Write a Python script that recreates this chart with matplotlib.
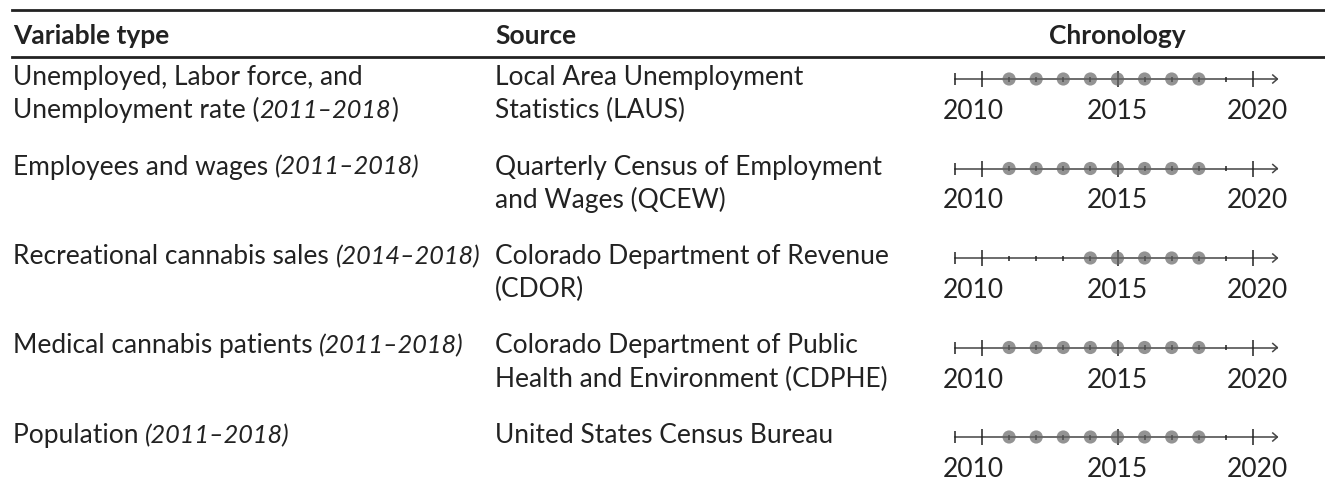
import matplotlib
matplotlib.use("Agg")
import matplotlib.pyplot as plt
from matplotlib.transforms import blended_transform_factory

W, H = 1325, 484
FONT = "Lato"
FS = 19
FS_IT = 18.2  # Lato italic digits run wide
INK = "#222222"

headers = ["Variable type", "Source", "Chronology"]

# each variable: list of (text, italic) parts per line
variables = [
    [[("Unemployed, Labor force, and", False)],
     [("Unemployment rate (", False), ("2011–2018", True), (")", False)]],
    [[("Employees and wages ", False), ("(2011–2018)", True)]],
    [[("Recreational cannabis sales ", False), ("(2014–2018)", True)]],
    [[("Medical cannabis patients ", False), ("(2011–2018)", True)]],
    [[("Population ", False), ("(2011–2018)", True)]],
]
sources = [
    ["Local Area Unemployment", "Statistics (LAUS)"],
    ["Quarterly Census of Employment", "and Wages (QCEW)"],
    ["Colorado Department of Revenue", "(CDOR)"],
    ["Colorado Department of Public", "Health and Environment (CDPHE)"],
    ["United States Census Bureau"],
]
start_years = [2011, 2011, 2014, 2011, 2011]
end_years = [2018, 2018, 2018, 2018, 2018]

axis_start, axis_end = 2009, 2020.9
major_years = [2010, 2015, 2020]
year_labels = ["2010", "2015", "2020"]

fig = plt.figure(figsize=(W / 100, H / 100), dpi=100)
renderer = fig.canvas.get_renderer()


def fx(x):
    return x / W


def fy(y):
    return 1 - y / H


def put_parts(x, y, parts, **kw):
    for s, ital in parts:
        t = fig.text(fx(x), fy(y), s, fontsize=FS_IT if ital else FS,
                     family=FONT, color=INK,
                     style="italic" if ital else "normal", va="baseline", **kw)
        x += t.get_window_extent(renderer).width


# rules
fig.add_artist(plt.Line2D([fx(12), 1], [fy(10), fy(10)], color=INK, lw=2))
fig.add_artist(plt.Line2D([fx(12), 1], [fy(57), fy(57)], color=INK, lw=2))

# header
col_x = [13, 495]
for x, h in zip(col_x, headers[:2]):
    fig.text(fx(x), fy(44), h, fontsize=FS, family=FONT, weight="bold",
             color=INK, va="baseline")
fig.text(fx(1117), fy(44), headers[2], fontsize=FS, family=FONT,
         weight="bold", color=INK, va="baseline", ha="center")

ROW0, PITCH, LINE = 85, 89.5, 33.5
x0, x1 = 943, 1288
xlim = (2010 - (982 - x0) / 27.1, 2010 + (x1 - 982) / 27.1)

for i in range(len(variables)):
    base = ROW0 + PITCH * i
    for j, parts in enumerate(variables[i]):
        put_parts(col_x[0], base + LINE * j, parts)
    for j, s in enumerate(sources[i]):
        fig.text(fx(col_x[1]), fy(base + LINE * j), s, fontsize=FS,
                 family=FONT, color=INK, va="baseline")

    # chronology strip
    ty = base - 6
    ax = fig.add_axes([fx(x0), fy(ty + 15), fx(x1 - x0), 30 / H])
    ax.set_xlim(*xlim)
    ax.set_ylim(15, -15)
    ax.axis("off")
    ax.plot([axis_start, axis_end], [0, 0], color="#444444", lw=1.1)
    ax.vlines(axis_start, -6, 6, color=INK, lw=1.1)
    minor = [y for y in range(2011, 2020) if y not in major_years]
    ax.vlines(minor, -2.5, 2.5, color=INK, lw=1.1)
    ax.vlines(major_years, -8, 8, color=INK, lw=1.1)
    ax.plot([axis_end - 0.17, axis_end, axis_end - 0.17], [-4, 0, 4],
            color="#444444", lw=1.1)
    yrs = list(range(start_years[i], end_years[i] + 1))
    ax.scatter(yrs, [0] * len(yrs), s=90, color="#666666", alpha=0.7,
               edgecolors="none", zorder=3)
    tr = blended_transform_factory(ax.transAxes, ax.transData)
    ax.text(0, 40, year_labels[0], transform=tr, ha="left", va="baseline",
            fontsize=FS, family=FONT, color=INK, clip_on=False)
    ax.text(major_years[1], 40, year_labels[1], ha="center", va="baseline",
            fontsize=FS, family=FONT, color=INK, clip_on=False)
    ax.text(1, 40, year_labels[2], transform=tr, ha="right", va="baseline",
            fontsize=FS, family=FONT, color=INK, clip_on=False)

fig.savefig("out.png", dpi=100)
